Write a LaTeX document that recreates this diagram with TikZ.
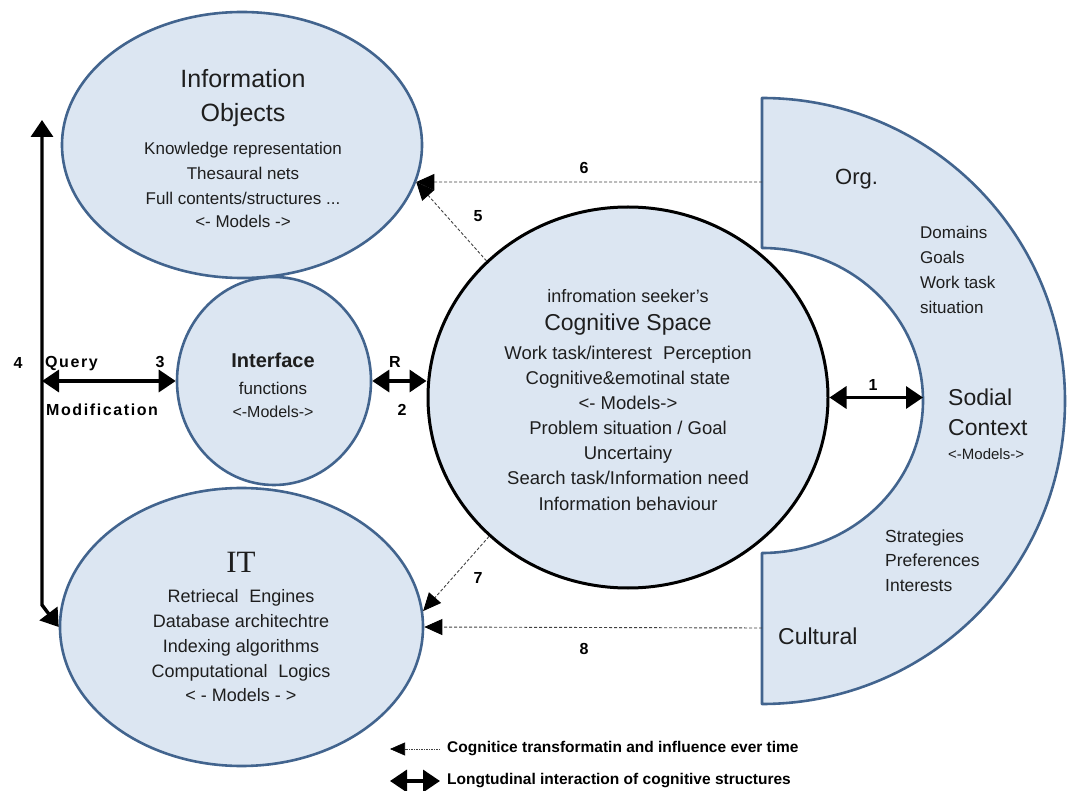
\documentclass[tikz,border=0pt]{standalone}
\usepackage{fontspec}
\setmainfont{Liberation Sans}
\newfontfamily\serifit{Liberation Serif}
\newfontfamily\lblfont[LetterSpace=10]{Liberation Sans}
\usetikzlibrary{shapes.geometric,arrows.meta}

\definecolor{fillblue}{HTML}{DCE6F2}
\definecolor{edgeblue}{HTML}{42648E}
\definecolor{ink}{HTML}{1E1E1E}

\newcommand{\fsz}[1]{\fontsize{#1}{#1}\selectfont}

\begin{document}
\begin{tikzpicture}[x=1pt,y=-1pt,
  blob/.style={ellipse, draw=edgeblue, fill=fillblue, line width=2.6pt, inner sep=0pt},
  mind/.style={ellipse, draw=black, fill=fillblue, line width=3pt, inner sep=0pt},
  txt/.style={inner sep=0pt, text=ink, text height=0.7em, text depth=0pt, yshift=-4pt},
  lbl/.style={inner sep=0pt, text=black, text height=0.7em, text depth=0pt, yshift=-2.5pt,
    font=\lblfont\bfseries\fsz{16}},
  lgd/.style={inner sep=0pt, text=black, anchor=west, text height=0.7em, text depth=0pt,
    font=\bfseries\fsz{15.5}},
  both ways/.style={line width=3.4pt,
    {Triangle[length=17pt,width=22pt]}-{Triangle[length=17pt,width=22pt]}},
  influence/.style={line width=0.9pt, draw=black!75, dash pattern=on 3pt off 2pt,
    -{Triangle[length=18pt,width=16pt,black]}}
]
\useasboundingbox (0,0) rectangle (1069,791);

% ---- social context band ----
\draw[draw=edgeblue, fill=fillblue, line width=2.6pt, line join=round]
  (762,98) arc[start angle=-90, end angle=90, radius=303]
  -- (762,553) arc[start angle=90, end angle=-90, x radius=161, y radius=152.5]
  -- cycle;
\coordinate (inner) at (923,400.5);
\coordinate (orgedge) at (762,182);
\coordinate (culedge) at (762,628);

% ---- main shapes ----
\node[blob, minimum width=360pt, minimum height=266pt] (io) at (242,145) {};
\node[blob, minimum width=194pt, minimum height=208pt] (iface) at (274,381) {};
\node[blob, minimum width=363pt, minimum height=278pt] (it) at (241.5,627) {};
\node[mind, minimum width=400pt, minimum height=381pt] (cog) at (628,397.5) {};

% ---- Information Objects ----
\node[txt, font=\fsz{25}] (ioA) at (243,80) {Information};
\node[txt, font=\fsz{25}] (ioB) at (243,114) {Objects};
\node[txt, font=\fsz{17}] (ioC) at (243,147) {Knowledge representation};
\node[txt, font=\fsz{17}] (ioD) at (243,172) {Thesaural nets};
\node[txt, font=\fsz{17}] (ioE) at (243,197) {Full contents/structures ...};
\node[txt, font=\fsz{17}] (ioF) at (243,220) {<- Models ->};

% ---- Interface ----
\node[txt, font=\bfseries\fsz{20}] (ifA) at (273,360) {Interface};
\node[txt, font=\fsz{17}] (ifB) at (273,387) {functions};
\node[txt, font=\fsz{16}] (ifC) at (273,410) {<-Models->};

% ---- IT ----
\node[txt, font=\serifit\fsz{31}] (itA) at (241,565) {IT};
\node[txt, font=\fsz{18}] (itB) at (241,595) {Retriecal\hspace{0.6em}Engines};
\node[txt, font=\fsz{18}] (itC) at (241,620) {Database architechtre};
\node[txt, font=\fsz{18}] (itD) at (241,645) {Indexing algorithms};
\node[txt, font=\fsz{18}] (itE) at (241,670) {Computational\hspace{0.6em}Logics};
\node[txt, font=\fsz{18}] (itF) at (241,694) {< - Models - >};

% ---- Cognitive space ----
\node[txt, font=\fsz{18}] (cgA) at (628,295) {infromation seeker’s};
\node[txt, font=\fsz{23}] (cgB) at (628,323) {Cognitive Space};
\node[txt, font=\fsz{18.5}] (cgC) at (628,352) {Work task/interest\hspace{0.6em}Perception};
\node[txt, font=\fsz{18.5}] (cgD) at (628,377) {Cognitive\&emotinal state};
\node[txt, font=\fsz{18.5}] (cgE) at (628,402) {<- Models->};
\node[txt, font=\fsz{18.5}] (cgF) at (628,427) {Problem situation / Goal};
\node[txt, font=\fsz{18.5}] (cgG) at (628,452) {Uncertainy};
\node[txt, font=\fsz{18.5}] (cgH) at (628,477) {Search task/Information need};
\node[txt, font=\fsz{18.5}] (cgI) at (628,503) {Information behaviour};

% ---- Social context ----
\node[txt, anchor=west, font=\fsz{22}] (scOrg) at (835,177) {Org.};
\node[txt, anchor=west, font=\fsz{17}] (scA) at (920,231) {Domains};
\node[txt, anchor=west, font=\fsz{17}] (scB) at (920,256) {Goals};
\node[txt, anchor=west, font=\fsz{17}] (scC) at (920,281) {Work task};
\node[txt, anchor=west, font=\fsz{17}] (scD) at (920,306) {situation};
\node[txt, anchor=west, font=\fsz{23}] (scE) at (948,398) {Sodial};
\node[txt, anchor=west, font=\fsz{23}] (scF) at (948,428) {Context};
\node[txt, anchor=west, font=\fsz{15}] (scG) at (948,452) {<-Models->};
\node[txt, anchor=west, font=\fsz{17.5}] (scH) at (885,535) {Strategies};
\node[txt, anchor=west, font=\fsz{17.5}] (scI) at (885,559) {Preferences};
\node[txt, anchor=west, font=\fsz{17.5}] (scJ) at (885,584) {Interests};
\node[txt, anchor=west, font=\fsz{23}] (scK) at (778,637) {Cultural};

% ---- interaction connectors ----
\coordinate (top4) at (42,120);
\coordinate (knee4) at (42,605);
\draw[both ways] (top4) -- (knee4) -- (it.west);
\draw[both ways] (iface.west -| top4) -- (iface.west);
\draw[both ways] (iface.east) -- (iface.east -| cog.west);
\draw[both ways] (cog.east) -- (cog.east -| inner);

% ---- influence connectors ----
\draw[influence] (orgedge) -- (io.-12);
\draw[influence] (cog.136.5) -- (io.-12);
\draw[influence] (cog.225) -- (it.5);
\draw[influence] (culedge) -- (it.east);

% ---- connector labels ----
\node[lbl] (n1) at (873,385) {1};
\node[lbl] (n2) at (402,410) {2};
\node[lbl] (nR) at (395,362) {R};
\node[lbl] (n3) at (160,362) {3};
\node[lbl] (n4) at (18,363) {4};
\node[lbl, anchor=west] (nQ) at (45,362) {Query};
\node[lbl, anchor=west] (nM) at (46,410) {Modification};
\node[lbl] (n5) at (478,216) {5};
\node[lbl] (n6) at (584,168) {6};
\node[lbl] (n7) at (478,577) {7};
\node[lbl] (n8) at (584,648) {8};

% ---- legend ----
\coordinate (lgAa) at (440,749);
\coordinate (lgAb) at (390,749);
\coordinate (lgBa) at (390,781);
\coordinate (lgBb) at (440,781);
\draw[influence, line width=0.6pt, dash pattern=on 1.5pt off 1pt,
  -{Triangle[length=15pt,width=13pt,black]}] (lgAa) -- (lgAb);
\draw[both ways] (lgBa) -- (lgBb);
\node[lgd] (lgA) at (447,749) {Cognitice transformatin and influence ever time};
\node[lgd] (lgB) at (447,781) {Longtudinal interaction of cognitive structures};
\end{tikzpicture}
\end{document}
